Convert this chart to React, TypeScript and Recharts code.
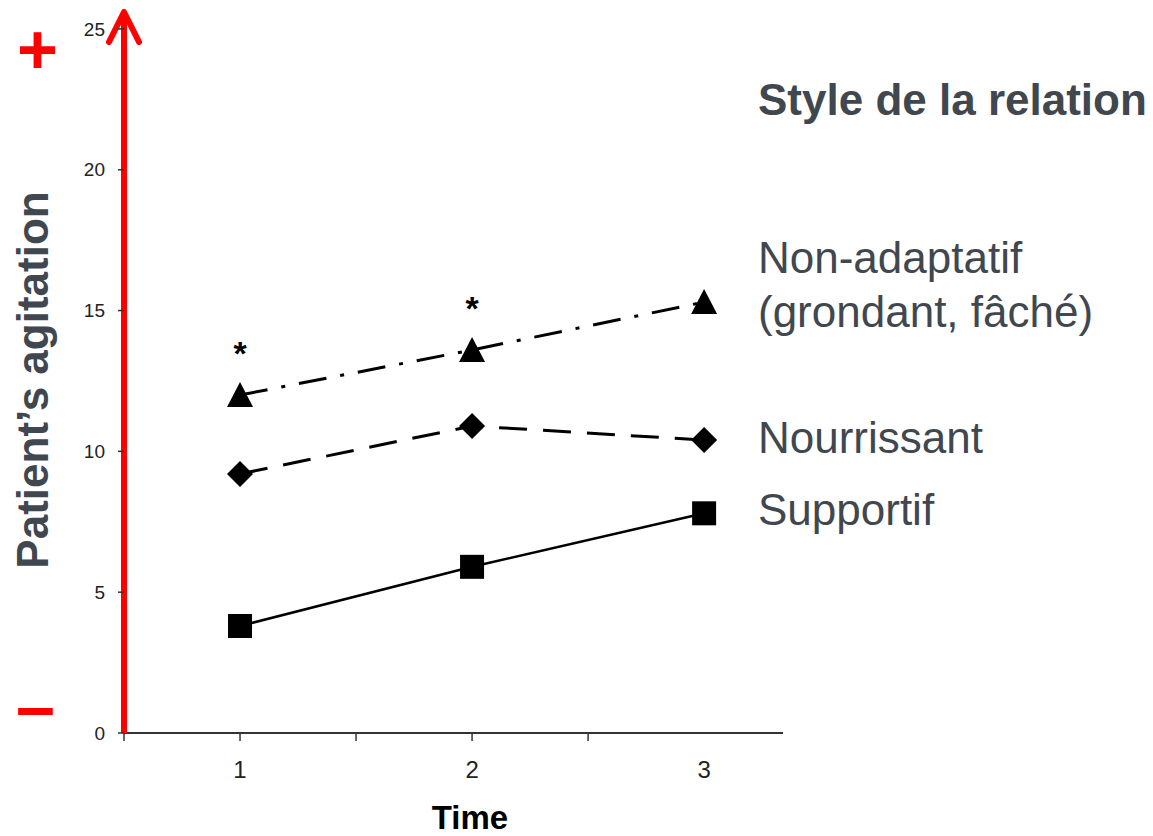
import { LineChart, Line, XAxis, YAxis, LabelList } from "recharts";

// Time points and the three relationship styles
const times = [1, 2, 3];
const nonAdaptatif = [12.0, 13.6, 15.3];
const nourrissant = [9.2, 10.9, 10.4];
const supportif = [3.8, 5.9, 7.8];
const significant = [true, true, false];

const xTicks = [0.5, 1, 1.5, 2, 2.5, 3];
const yTicks = [0, 5, 10, 15, 20, 25];

const chartData = times.map((t, i) => ({
    time: t,
    nonAdaptatif: nonAdaptatif[i],
    nourrissant: nourrissant[i],
    supportif: supportif[i],
}));

const grey = "#41474e";
const font = "'Liberation Sans', Arial, sans-serif";

const TriangleDot = (props: any) => {
    const { cx, cy } = props;
    return <polygon points={`${cx},${cy - 13} ${cx - 13},${cy + 12} ${cx + 13},${cy + 12}`} fill="#000" />;
};

const DiamondDot = (props: any) => {
    const { cx, cy } = props;
    return <polygon points={`${cx},${cy - 13} ${cx + 13},${cy} ${cx},${cy + 13} ${cx - 13},${cy}`} fill="#000" />;
};

const SquareDot = (props: any) => {
    const { cx, cy } = props;
    return <rect x={cx - 12} y={cy - 12} width={24} height={24} fill="#000" />;
};

// tick mark on every half step except the last one, label only on whole steps
const XTick = (props: any) => {
    const { x, y, payload } = props;
    const v = payload.value;
    return (
        <g>
            {v < 3 && <line x1={x} x2={x} y1={y - 10} y2={y - 2} stroke="#333" strokeWidth={1.5} />}
            {Number.isInteger(v) && (
                <text x={x} y={y} dy={35} textAnchor="middle" fontSize={24} fontFamily={font} fill="#222">
                    {v}
                </text>
            )}
        </g>
    );
};

const Star = (props: any) => {
    const { x, y, index } = props;
    if (!significant[index]) return <g />;
    return (
        <text x={x} y={y - 30} textAnchor="middle" fontSize={34} fontWeight="bold" fontFamily={font} fill="#000">
            *
        </text>
    );
};

const txt = (top: number, left: number, size: number, bold: boolean, color: string, content: string) => (
    <div
        style={{
            position: "absolute",
            top,
            left,
            fontSize: size,
            lineHeight: `${size}px`,
            fontWeight: bold ? "bold" : "normal",
            color,
            fontFamily: font,
            whiteSpace: "nowrap",
        }}
    >
        {content}
    </div>
);

export default function App() {
    return (
        <div style={{ position: "absolute", left: 0, top: 0, width: 1153, height: 836, background: "#fff" }}>
            <LineChart width={1153} height={836} data={chartData} margin={{ top: 12, right: 370, left: 0, bottom: 0 }}>
                <defs>
                    <marker id="arrowHead" markerUnits="userSpaceOnUse" markerWidth={40} markerHeight={40} refX={34} refY={20} orient="auto-start-reverse">
                        <path d="M4,5 L34,20 L4,35" fill="none" stroke="#ff0000" strokeWidth={6} strokeLinecap="round" strokeLinejoin="round" />
                    </marker>
                </defs>
                <XAxis
                    dataKey="time"
                    type="number"
                    domain={[0.5, 3.34]}
                    ticks={xTicks}
                    height={103}
                    tickSize={8}
                    axisLine={{ stroke: "#333", strokeWidth: 2 }}
                    tickLine={false}
                    tick={<XTick />}
                />
                <YAxis
                    type="number"
                    domain={[0, 25.6]}
                    ticks={yTicks}
                    width={124}
                    tickSize={6}
                    tickMargin={13}
                    axisLine={{ stroke: "#ff0000", strokeWidth: 6, markerStart: "url(#arrowHead)" }}
                    tickLine={{ stroke: "#333", strokeWidth: 1.5 }}
                    tick={{ fontSize: 19, fill: "#222", fontFamily: font }}
                />
                <Line
                    dataKey="supportif"
                    stroke="#000"
                    strokeWidth={2.5}
                    dot={<SquareDot />}
                    activeDot={false}
                    isAnimationActive={false}
                />
                <Line
                    dataKey="nourrissant"
                    stroke="#000"
                    strokeWidth={3}
                    strokeDasharray="28 16"
                    dot={<DiamondDot />}
                    activeDot={false}
                    isAnimationActive={false}
                />
                <Line
                    dataKey="nonAdaptatif"
                    stroke="#000"
                    strokeWidth={3}
                    strokeDasharray="28 14 4 14"
                    dot={<TriangleDot />}
                    activeDot={false}
                    isAnimationActive={false}
                >
                    <LabelList dataKey="nonAdaptatif" content={<Star />} />
                </Line>
            </LineChart>

            {txt(15, 17, 70, true, "#ff0000", "+")}
            {txt(671, 16, 70, true, "#ff0000", "–")}

            <div
                style={{
                    position: "absolute",
                    left: -217,
                    top: 358,
                    width: 500,
                    height: 44,
                    lineHeight: "44px",
                    fontSize: 44,
                    fontWeight: "bold",
                    color: grey,
                    fontFamily: font,
                    textAlign: "center",
                    transform: "rotate(-90deg)",
                    whiteSpace: "nowrap",
                }}
            >
                Patient’s agitation
            </div>

            <div
                style={{
                    position: "absolute",
                    left: 370,
                    width: 200,
                    top: 801,
                    fontSize: 33,
                    lineHeight: "33px",
                    fontWeight: "bold",
                    color: "#000",
                    fontFamily: font,
                    textAlign: "center",
                }}
            >
                Time
            </div>

            {txt(78, 758, 44, true, grey, "Style de la relation")}
            {txt(236, 758, 44, false, grey, "Non-adaptatif")}
            {txt(290, 758, 44, false, grey, "(grondant, fâché)")}
            {txt(416, 758, 44, false, grey, "Nourrissant")}
            {txt(488, 758, 44, false, grey, "Supportif")}
        </div>
    );
}
